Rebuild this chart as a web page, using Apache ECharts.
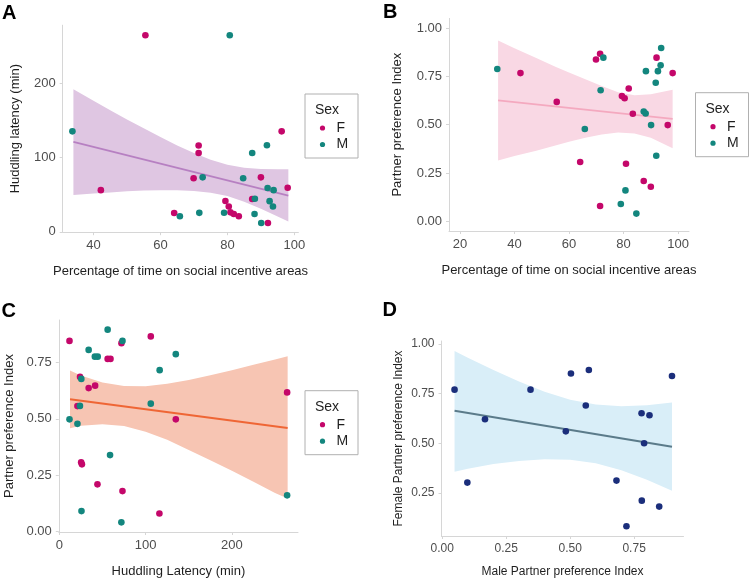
<!DOCTYPE html>
<html><head><meta charset="utf-8">
<script src="https://cdn.jsdelivr.net/npm/echarts@6/dist/echarts.min.js"></script>
<style>html,body{margin:0;padding:0;background:#fff}#c{width:752px;height:581px}</style>
</head><body><div id="c"></div>
<script>
// ---------- data ----------
// Females: % time on social incentive areas, huddling latency (min), partner preference index
const femPct = [42.2, 55.5, 64.1, 69.9, 71.4, 71.4, 79.4, 80.4, 80.9, 81.9, 83.4, 87.4, 90.0, 92.1, 96.2, 98.0];
const femLat = [56, 264, 25.3, 72, 106, 116, 41.5, 34, 26.2, 24, 21, 44.2, 73.2, 11.8, 135, 59.3];
const femPpi = [0.767, 0.618, 0.307, 0.837, 0.867, 0.079, 0.648, 0.637, 0.298, 0.687, 0.557, 0.209, 0.179, 0.847, 0.498, 0.767];
// Males
const malePct = [33.7, 65.8, 72.6, 71.6, 79.0, 80.7, 84.7, 87.4, 88.1, 88.2, 90.1, 91.8, 92.0, 92.6, 93.8, 93.6];
const maleLat = [135, 21, 73.2, 25.5, 25.7, 264, 71.9, 106, 23.9, 44.5, 11.8, 116.3, 58.8, 41.2, 56, 34];
const malePpi = [0.788, 0.478, 0.847, 0.678, 0.090, 0.160, 0.040, 0.568, 0.558, 0.777, 0.498, 0.717, 0.339, 0.777, 0.897, 0.807];
// Panel D: pairs (male PPI, female PPI)
const pairMale = [0.048, 0.098, 0.167, 0.345, 0.483, 0.503, 0.561, 0.573, 0.681, 0.720, 0.779, 0.780, 0.789, 0.810, 0.848, 0.898];
const pairFemale = [0.770, 0.302, 0.621, 0.770, 0.560, 0.851, 0.690, 0.869, 0.312, 0.082, 0.651, 0.211, 0.500, 0.641, 0.181, 0.839];

// Fitted lines and confidence bands
const fitXA = [34, 98.2], fitYA = [120.8, 48.8];
const bandXA = [34, 40, 45, 50, 55, 60, 65, 70, 75, 80, 85, 90, 95, 98.2];
const bandHiA = [191.5, 176, 163.5, 151, 139, 127.5, 116, 106, 97, 90, 86, 84.5, 84, 84];
const bandLoA = [49.5, 51.5, 53, 54.5, 55.5, 56, 56, 55, 52.5, 48, 40.5, 31, 20.5, 14];

const fitXB = [34, 98], fitYB = [0.626, 0.530];
const bandXB = [34, 40, 48, 55, 60, 66, 72, 78, 84, 90, 98];
const bandHiB = [0.936, 0.895, 0.845, 0.80, 0.77, 0.735, 0.70, 0.668, 0.652, 0.658, 0.681];
const bandLoB = [0.315, 0.338, 0.365, 0.393, 0.412, 0.432, 0.449, 0.459, 0.455, 0.433, 0.378];

const fitXC = [12.4, 264.6], fitYC = [0.588, 0.460];
const bandXC = [12.4, 25, 50, 75, 100, 125, 150, 175, 200, 225, 250, 264.6];
const bandHiC = [0.715, 0.693, 0.662, 0.646, 0.645, 0.656, 0.673, 0.694, 0.716, 0.741, 0.764, 0.779];
const bandLoC = [0.458, 0.470, 0.476, 0.468, 0.443, 0.407, 0.362, 0.316, 0.269, 0.220, 0.170, 0.146];

const fitXD = [0.048, 0.898], fitYD = [0.664, 0.483];
const bandXD = [0.048, 0.1, 0.2, 0.3, 0.4, 0.5, 0.6, 0.7, 0.8, 0.898];
const bandHiD = [0.965, 0.931, 0.869, 0.811, 0.759, 0.719, 0.695, 0.686, 0.692, 0.705];
const bandLoD = [0.357, 0.372, 0.395, 0.411, 0.419, 0.417, 0.399, 0.364, 0.316, 0.261];

// Tick labels
const ticksAx = [40, 60, 80, 100], ticksAy = [0, 100, 200];
const ticksBx = [20, 40, 60, 80, 100], ticksBy = [0, 0.25, 0.5, 0.75, 1];
const ticksCx = [0, 100, 200], ticksCy = [0, 0.25, 0.5, 0.75];
const ticksDx = [0, 0.25, 0.5, 0.75], ticksDy = [0.25, 0.5, 0.75, 1];

// ---------- styling ----------
const FONT = '"Liberation Sans", Arial, sans-serif';
const MAG = '#c4076a', TEAL = '#13867e', NAVY = '#1b2e7b';
const AXC = '#d6d6d6', LABC = '#4d4d4d', TITC = '#1f1f1f';

const zip = (a, b) => a.map((v, i) => [v, b[i]]);

function axis(type, gi, min, max, ticks, fmt, name, gap, fs, tfs) {
  return {
    type: 'value', gridIndex: gi, min: min, max: max,
    axisLine: { show: true, onZero: false, lineStyle: { color: AXC, width: 1 } },
    axisTick: { show: true, customValues: ticks, length: 3, lineStyle: { color: AXC } },
    axisLabel: { customValues: ticks, formatter: fmt, color: LABC, fontSize: fs, fontFamily: FONT, margin: 7 },
    splitLine: { show: false },
    name: name, nameLocation: 'middle', nameGap: gap,
    nameRotate: type === 'y' ? 90 : 0,
    nameTextStyle: { color: TITC, fontSize: tfs, fontFamily: FONT }
  };
}
const f0 = v => String(Math.round(v));
const f2 = v => v.toFixed(2);

function band(gi, bx, hi, lo, color) {
  return {
    type: 'custom', xAxisIndex: gi, yAxisIndex: gi, silent: true, z: 1,
    data: [[bx[0], hi[0]]],
    renderItem: function (params, api) {
      const pts = [];
      for (let k = 0; k < bx.length; k++) pts.push(api.coord([bx[k], hi[k]]));
      for (let k = bx.length - 1; k >= 0; k--) pts.push(api.coord([bx[k], lo[k]]));
      return { type: 'polygon', shape: { points: pts }, style: { fill: color } };
    }
  };
}
function fit(gi, fx, fy, color, w) {
  return { type: 'line', xAxisIndex: gi, yAxisIndex: gi, data: zip(fx, fy), showSymbol: false, silent: true, z: 2,
    lineStyle: { color: color, width: w } };
}
function pts(gi, name, xs, ys, color) {
  return { type: 'scatter', name: name, xAxisIndex: gi, yAxisIndex: gi, data: zip(xs, ys), symbolSize: 6.6, z: 3,
    itemStyle: { color: color, opacity: 1 } };
}

function legendBox(x, y) {
  return [
    { type: 'rect', shape: { x: x, y: y, width: 53, height: 64 }, style: { fill: '#fff', stroke: '#b0b0b0', lineWidth: 1 }, z: 10 },
    { type: 'text', x: x + 10, y: y + 16, style: { text: 'Sex', font: '14px ' + FONT, fill: TITC, verticalAlign: 'middle' }, z: 11 },
    { type: 'circle', shape: { cx: x + 17.5, cy: y + 34, r: 2.6 }, style: { fill: MAG }, z: 11 },
    { type: 'text', x: x + 31.5, y: y + 34, style: { text: 'F', font: '14px ' + FONT, fill: TITC, verticalAlign: 'middle' }, z: 11 },
    { type: 'circle', shape: { cx: x + 17.5, cy: y + 50.5, r: 2.6 }, style: { fill: TEAL }, z: 11 },
    { type: 'text', x: x + 31.5, y: y + 50.5, style: { text: 'M', font: '14px ' + FONT, fill: TITC, verticalAlign: 'middle' }, z: 11 }
  ];
}
function letter(t, x, y) {
  return { type: 'text', x: x, y: y, style: { text: t, font: 'bold 20px ' + FONT, fill: '#000', verticalAlign: 'middle' }, z: 11 };
}

const chart = echarts.init(document.getElementById('c'), null, { renderer: 'canvas' });
chart.setOption({
  animation: false,
  backgroundColor: '#fff',
  grid: [
    { left: 62.7, top: 25.2, width: 235.7, height: 207 },
    { left: 449, top: 18.4, width: 240, height: 212.6 },
    { left: 58.8, top: 320, width: 239.2, height: 212 },
    { left: 441.5, top: 341, width: 242, height: 195 }
  ],
  xAxis: [
    axis('x', 0, 30.8, 101.2, ticksAx, f0, 'Percentage of time on social incentive areas', 33, 13, 13),
    axis('x', 1, 16, 104, ticksBx, f0, 'Percentage of time on social incentive areas', 33, 13, 13),
    axis('x', 2, -0.6, 276.6, ticksCx, f0, 'Huddling Latency (min)', 33, 13, 13),
    axis('x', 3, -0.003, 0.943, ticksDx, f2, 'Male Partner preference Index', 30, 12, 12)
  ],
  yAxis: [
    axis('y', 0, -0.5, 277.6, ticksAy, f0, 'Huddling latency (min)', 41, 13, 13),
    axis('y', 1, -0.05, 1.05, ticksBy, f2, 'Partner preference Index', 45, 13, 13),
    axis('y', 2, -0.003, 0.94, ticksCy, f2, 'Partner preference Index', 43, 13, 13),
    axis('y', 3, 0.033, 1.015, ticksDy, f2, 'Female Partner preference Index', 37, 12, 12)
  ],
  series: [
    band(0, bandXA, bandHiA, bandLoA, '#dfc6e2'),
    fit(0, fitXA, fitYA, '#b780c2', 1.8),
    pts(0, 'F', femPct, femLat, MAG),
    pts(0, 'M', malePct, maleLat, TEAL),

    band(1, bandXB, bandHiB, bandLoB, '#f9d8e4'),
    fit(1, fitXB, fitYB, '#f4a9bf', 1.6),
    pts(1, 'F', femPct, femPpi, MAG),
    pts(1, 'M', malePct, malePpi, TEAL),

    band(2, bandXC, bandHiC, bandLoC, '#f7c5b3'),
    fit(2, fitXC, fitYC, '#ef6635', 2),
    pts(2, 'F', femLat, femPpi, MAG),
    pts(2, 'M', maleLat, malePpi, TEAL),

    band(3, bandXD, bandHiD, bandLoD, '#d9eef8'),
    fit(3, fitXD, fitYD, '#5b7b8a', 2),
    pts(3, 'pair', pairMale, pairFemale, NAVY)
  ],
  graphic: [].concat(
    legendBox(305, 94),
    legendBox(695.5, 92.7),
    legendBox(305, 390.7),
    [letter('A', 2, 13.5), letter('B', 383, 12), letter('C', 1.5, 311), letter('D', 382.5, 310.5)]
  )
});
</script></body></html>
